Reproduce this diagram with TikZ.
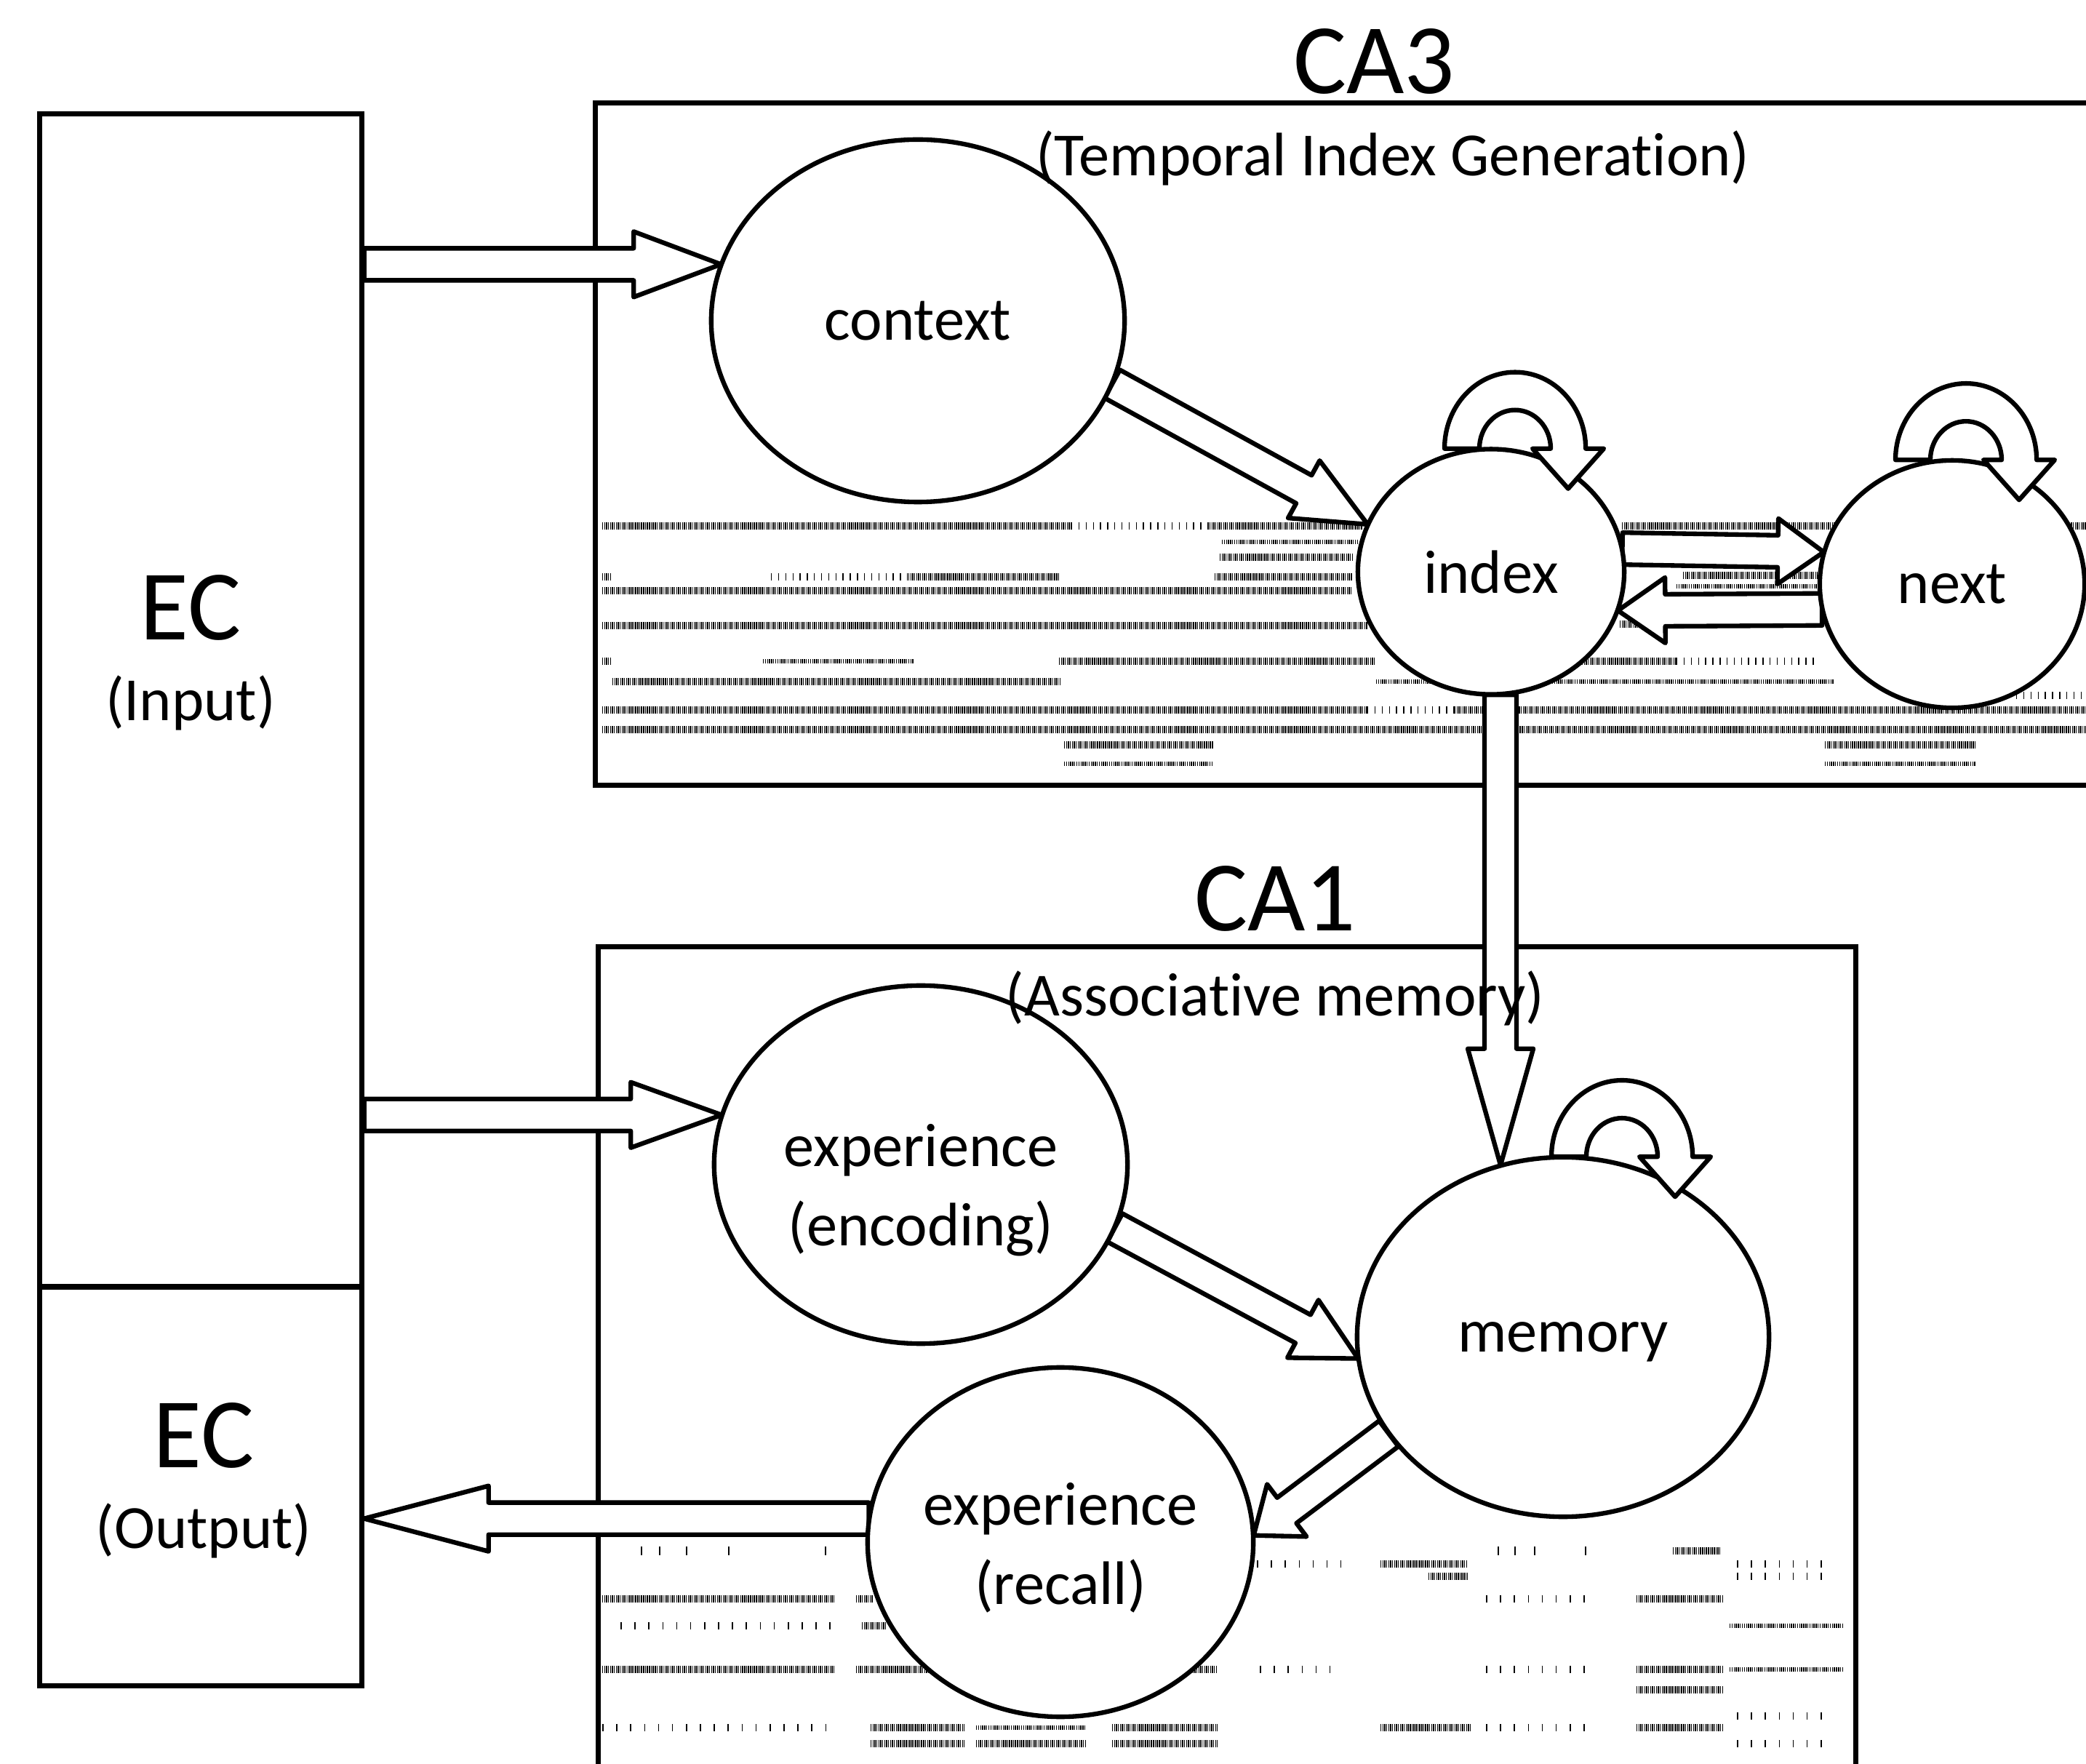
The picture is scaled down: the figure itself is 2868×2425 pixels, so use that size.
\documentclass[tikz,border=0pt]{standalone}
\usepackage{fontspec}
\setmainfont{Carlito}[Ligatures={NoCommon,NoRequired,NoContextual}]
\usetikzlibrary{calc,positioning,shapes.geometric}

\begin{document}
\begin{tikzpicture}[
    x=0.01cm,y=-0.01cm,
    every node/.style={inner sep=0pt},
    lbl/.style={font=\fontsize{24}{31}\selectfont},
    big/.style={font=\fontsize{39}{47}\selectfont},
    box/.style={draw,rectangle,line width=2pt},
    cell/.style={draw,ellipse,fill=white,line width=1.8pt,align=center,
      font=\fontsize{24}{31}\selectfont},
    tiplen/.store in=\tiplen,tiplen=1cm,
    fat/.style={draw,fill=white,line width=1.8pt,line join=round,
      to path={
        ($(\tikztostart)!0.22cm!90:(\tikztotarget)$)
        -- ($(\tikztotarget)!\tiplen!(\tikztostart)!0.22cm!-90:(\tikztostart)$)
        -- ($(\tikztotarget)!\tiplen!(\tikztostart)!0.45cm!-90:(\tikztostart)$)
        -- (\tikztotarget)
        -- ($(\tikztotarget)!\tiplen!(\tikztostart)!0.45cm!90:(\tikztostart)$)
        -- ($(\tikztotarget)!\tiplen!(\tikztostart)!0.22cm!90:(\tikztostart)$)
        -- ($(\tikztostart)!0.22cm!-90:(\tikztotarget)$)
        -- cycle}},
    selfloop/.pic={
      \draw[line width=1.8pt,fill=white,line join=round]
        (-97,0) arc[start angle=180,end angle=0,x radius=0.97cm,y radius=1.05cm]
        -- (122,0) -- (73,55) -- (24,0) -- (49,0)
        arc[start angle=0,end angle=180,x radius=0.49cm,y radius=0.53cm]
        -- cycle;},
    spk/.style={line width=2.8pt,dash pattern=on 0.4pt off 0.36pt,black},
    spkthin/.style={line width=1.5pt,dash pattern=on 0.4pt off 0.4pt,black},
    spksparse/.style={line width=2.6pt,dash pattern=on 0.4pt off 2.4pt,black},
    spkwide/.style={line width=2.6pt,dash pattern=on 0.45pt off 5pt,black}]
\clip (0,0) rectangle (2868,2425);

% spike rasters, CA3
\foreach \y/\a/\b in {723/828/1473,723/1663/1873,723/2230/2868,766/1677/1859,
    793/828/839,793/1249/1456,793/1670/1859,812/828/1859,858/2227/2305,
    860/828/1880,909/828/839,909/1456/1891,909/2175/2305,937/842/1459,
    791/2314/2499,976/828/1880,976/2000/2868,1003/828/2868,
    1024/1463/1668,1024/2509/2717}
  \draw[spk] (\a,\y) -- (\b,\y);
\foreach \y/\a/\b in {745/1680/1866,806/2305/2499,909/1049/1256,937/1892/2522,
    1050/1463/1668,1050/2509/2717}
  \draw[spkthin] (\a,\y) -- (\b,\y);
\foreach \y/\a/\b in {723/1473/1663,793/1060/1249,976/1880/2000,909/2305/2500,
    956/2772/2868}
  \draw[spksparse] (\a,\y) -- (\b,\y);

% spike rasters, CA1
\foreach \y/\a/\b in {2132/2300/2365,2150/1898/2018,2167/1964/2018,2198/828/1148,
    2198/1177/1201,2198/2250/2368,2235/1185/1218,2295/828/1148,2295/1177/1276,
    2295/1637/1674,2295/2250/2368,2323/2250/2368,2375/1197/1326,2375/1529/1674,
    2375/1898/2022,2375/2250/2368,2397/1197/1326,2397/1342/1492,2397/1529/1674}
  \draw[spk] (\a,\y) -- (\b,\y);
\foreach \y/\a/\b in {2235/2378/2533,2295/2378/2533,2375/1342/1492}
  \draw[spkthin] (\a,\y) -- (\b,\y);
\foreach \y/\a/\b in {2150/1728/1844,2150/2388/2520,2167/2388/2520,2198/2043/2190,
    2235/853/1148,2295/1732/1844,2295/2043/2190,2359/2388/2520,2375/828/1148,
    2375/2043/2190,2397/2388/2520}
  \draw[spkwide] (\a,\y) -- (\b,\y);
\foreach \x in {882,907,944,1002,1135,2060,2083,2110,2180}
  \draw[line width=0.45pt] (\x,2126) -- (\x,2138);

% regions
\node[box,minimum width=4.42cm,minimum height=16.12cm] (ecin) at (276,963) {};
\node[box,minimum width=4.42cm,minimum height=5.48cm] (ecout) at (276,2043) {};
\node[box,minimum width=21.81cm,minimum height=9.37cm] (ca3) at (1909.5,610.5) {};
\node[box,minimum width=17.28cm,minimum height=12.98cm] (ca1) at (1687,1951) {};

% cell groups (shape only for anchors, drawn again below)
\path (1262,441) node[ellipse,minimum width=5.68cm,minimum height=4.98cm] (context) {}
      (2050,786) node[ellipse,minimum width=3.66cm,minimum height=3.37cm] (index) {}
      (2684,803) node[ellipse,minimum width=3.64cm,minimum height=3.40cm] (next) {}
      (1266,1601) node[ellipse,minimum width=5.68cm,minimum height=4.92cm] (enc) {}
      (2149,1838) node[ellipse,minimum width=5.66cm,minimum height=4.94cm] (memory) {}
      (1458,2120) node[ellipse,minimum width=5.30cm,minimum height=4.80cm] (recall) {};

% pathways
\coordinate (a1s) at (ecin.east |- context.164);
\coordinate (a5s) at (memory.110 |- index.south);
\coordinate (a6s) at (ecin.east |- enc.166);
\coordinate (a9e) at (ecout.east |- recall.173);
\draw[fat,tiplen=1.2cm] (a1s) to (context.164);
\draw[fat,tiplen=1.0cm] (context.-18) to (index.159);
\draw[fat,tiplen=0.63cm] (index.10) to (next.166);
\draw[fat,tiplen=0.65cm] (next.191) to (index.-17);
\draw[fat,tiplen=1.6cm] (a5s) to (memory.110);
\draw[fat,tiplen=1.25cm] (a6s) to (enc.166);
\draw[fat,tiplen=0.86cm] (enc.-18) to (memory.186);
\draw[fat,tiplen=0.57cm] (memory.209) to (recall.2);
\draw[fat,tiplen=1.71cm] (recall.173) to (a9e);

% cells
\node[cell,minimum width=5.68cm,minimum height=4.98cm] (contextc) at (context) {context};
\node[cell,minimum width=3.66cm,minimum height=3.37cm] (indexc) at (index) {index};
\node[cell,minimum width=3.64cm,minimum height=3.40cm] (nextc) at (next) {next};
\node[cell,minimum width=5.68cm,minimum height=4.92cm,
  label={[lbl,align=center,yshift=-0.35cm]center:{experience\\(encoding)}}] (encc) at (enc) {};
\node[cell,minimum width=5.66cm,minimum height=4.94cm,text depth=0pt] (memoryc) at (memory) {memory};
\node[cell,minimum width=5.30cm,minimum height=4.80cm,
  label={[lbl,align=center,yshift=-0.08cm]center:{experience\\(recall)}}] (recallc) at (recall) {};

% recurrence
\pic at ([xshift=0.33cm]index.north) {selfloop};
\pic at ([xshift=0.19cm]next.north) {selfloop};
\pic at ([xshift=0.81cm]memory.north) {selfloop};

% titles
\node[big] (ecinlbl) at (262,835) {EC};
\node[lbl,below=0.47cm of ecinlbl] (ecinsub) {(Input)};
\node[big] (ecoutlbl) at (280,1973) {EC};
\node[lbl,below=0.47cm of ecoutlbl] (ecoutsub) {(Output)};
\node[big] (ca3lbl) at (1889,84) {CA3};
\node[lbl] (ca3sub) at (1915,217) {(Temporal Index Generation)};
\node[big] (ca1lbl) at (1753,1235) {CA1};
\node[lbl] (ca1sub) at (1753,1372) {(Associative memory)};
\end{tikzpicture}
\end{document}
